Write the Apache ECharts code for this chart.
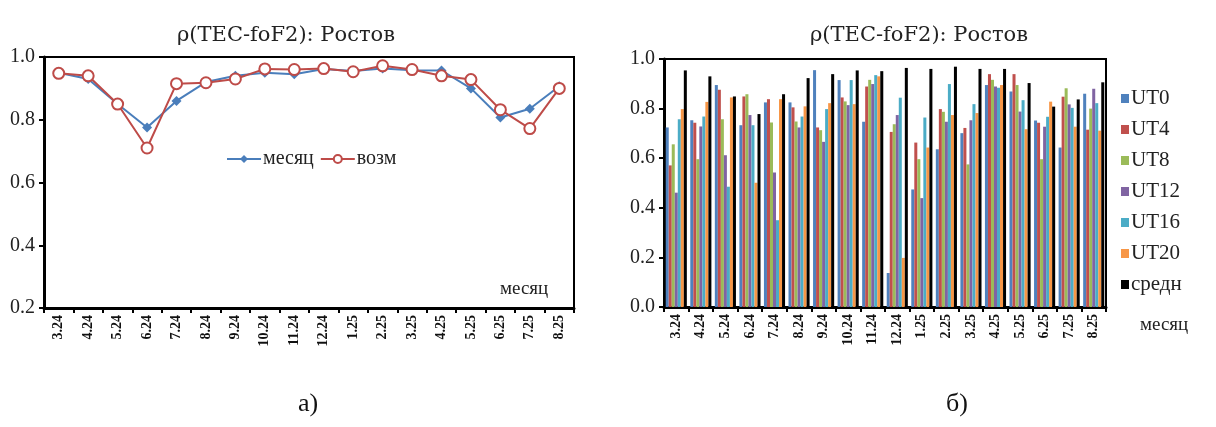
<!DOCTYPE html>
<html><head><meta charset="utf-8">
<script src="https://cdn.jsdelivr.net/npm/echarts@6/dist/echarts.min.js"></script>
<style>html,body{margin:0;padding:0;background:#fff}#c{width:1216px;height:427px}</style>
</head><body><div id="c"></div>
<script>
const categories = ['3.24','4.24','5.24','6.24','7.24','8.24','9.24','10.24','11.24','12.24','1.25','2.25','3.25','4.25','5.25','6.25','7.25','8.25'];
const monthVals = [0.95,0.93,0.85,0.775,0.86,0.92,0.94,0.95,0.945,0.962,0.955,0.963,0.958,0.957,0.90,0.807,0.835,0.907];
const possVals  = [0.948,0.94,0.85,0.71,0.915,0.918,0.93,0.962,0.96,0.963,0.953,0.972,0.96,0.94,0.928,0.832,0.772,0.90];
const ut0  = [0.724,0.753,0.895,0.733,0.825,0.825,0.955,0.915,0.747,0.137,0.474,0.636,0.701,0.895,0.869,0.752,0.643,0.86];
const ut4  = [0.571,0.743,0.876,0.849,0.838,0.805,0.724,0.845,0.889,0.706,0.663,0.798,0.722,0.939,0.939,0.743,0.848,0.715];
const ut8  = [0.656,0.596,0.757,0.858,0.744,0.748,0.713,0.829,0.916,0.737,0.596,0.787,0.575,0.916,0.895,0.596,0.882,0.80];
const ut12 = [0.461,0.728,0.612,0.774,0.542,0.724,0.666,0.814,0.899,0.774,0.439,0.747,0.753,0.889,0.788,0.727,0.817,0.88];
const ut16 = [0.757,0.768,0.485,0.733,0.35,0.768,0.798,0.915,0.935,0.844,0.764,0.899,0.818,0.884,0.834,0.767,0.803,0.822];
const ut20 = [0.798,0.827,0.845,0.501,0.838,0.809,0.822,0.818,0.93,0.198,0.643,0.774,0.782,0.895,0.717,0.828,0.727,0.711];
const avg  = [0.954,0.93,0.849,0.778,0.858,0.923,0.939,0.954,0.951,0.964,0.96,0.969,0.96,0.96,0.903,0.808,0.837,0.906];
const yTicksLeft = [0.2,1.0,0.2];
const yTicksRight = [0.0,1.0,0.2];

const serif = '"Liberation Serif","DejaVu Serif",serif';
const wideSerif = '"DejaVu Serif","Liberation Serif",serif';
const barSeriesDefs = [
  ['UT0', ut0, '#4F81BD'], ['UT4', ut4, '#C0504D'], ['UT8', ut8, '#9BBB59'],
  ['UT12', ut12, '#8064A2'], ['UT16', ut16, '#4BACC6'], ['UT20', ut20, '#F79646'],
  ['средн', avg, '#000000']
];

function xAxisCfg(gi){
  return {
    type:'category', gridIndex:gi, data:categories,
    axisLine:{lineStyle:{color:'#000',width:3}},
    axisTick:{show:true, alignWithLabel:false, length:5, lineStyle:{color:'#000',width:2}},
    axisLabel:{rotate:90, fontFamily:serif, fontWeight:'bold', fontSize:14, color:'#111', margin:7, interval:0}
  };
}
function yAxisCfg(gi, t){
  return {
    type:'value', gridIndex:gi, min:t[0], max:t[1], interval:t[2],
    axisLine:{show:true, lineStyle:{color:'#000',width:3}},
    axisTick:{show:true, length:5, lineStyle:{color:'#000',width:2}},
    splitLine:{show:false},
    axisLabel:{fontFamily:serif, fontSize:20, color:'#222', margin:9, formatter:v=>v.toFixed(1)}
  };
}

const series = [
  {name:'месяц', type:'line', xAxisIndex:0, yAxisIndex:0, data:monthVals,
   symbol:'diamond', symbolSize:10, lineStyle:{color:'#4A7EBB', width:2},
   itemStyle:{color:'#4A7EBB'}},
  {name:'возм', type:'line', xAxisIndex:0, yAxisIndex:0, data:possVals,
   symbol:'emptyCircle', symbolSize:11, lineStyle:{color:'#BE4B48', width:2},
   itemStyle:{color:'#BE4B48', borderWidth:1.5}}
];
barSeriesDefs.forEach(d=>{
  series.push({name:d[0], type:'bar', xAxisIndex:1, yAxisIndex:1, data:d[1],
    barGap:'0%', barCategoryGap:'14%', itemStyle:{color:d[2]}});
});

const chart = echarts.init(document.getElementById('c'), null, {renderer:'canvas'});
chart.setOption({
  animation:false,
  backgroundColor:'#fff',
  title:[
    {text:'ρ(TEC-foF2): Ростов', left:281, top:20, textAlign:'center',
     textStyle:{fontFamily:wideSerif, fontSize:21, fontWeight:'normal', color:'#222'}},
    {text:'ρ(TEC-foF2): Ростов', left:914, top:20, textAlign:'center',
     textStyle:{fontFamily:wideSerif, fontSize:21, fontWeight:'normal', color:'#222'}}
  ],
  grid:[
    {left:44, right:642, top:57, bottom:119, show:true, borderColor:'#000', borderWidth:2},
    {left:664, right:110, top:59, bottom:120, show:true, borderColor:'#000', borderWidth:2}
  ],
  xAxis:[xAxisCfg(0), xAxisCfg(1)],
  yAxis:[yAxisCfg(0, yTicksLeft), yAxisCfg(1, yTicksRight)],
  legend:[
    {data:['месяц','возм'], left:221, top:144, orient:'horizontal', itemWidth:34, itemHeight:10, itemGap:6,
     textStyle:{fontFamily:serif, fontSize:20, color:'#222', padding:[0,0,0,-3]}},
    {data:['UT0','UT4','UT8','UT12','UT16','UT20','средн'], left:1116, top:83, orient:'vertical',
     itemWidth:8, itemHeight:9, itemGap:10, icon:'rect',
     textStyle:{fontFamily:serif, fontSize:21, color:'#222', lineHeight:21, padding:[0,0,0,-3]}}
  ],
  graphic:[
    {type:'text', left:500, top:280, style:{text:'месяц', font:'19px '+serif, fill:'#222'}},
    {type:'text', left:1140, top:316, style:{text:'месяц', font:'19px '+serif, fill:'#222'}},
    {type:'text', left:298, top:391, style:{text:'а)', font:'26px '+serif, fill:'#111'}},
    {type:'text', left:946, top:391, style:{text:'б)', font:'26px '+serif, fill:'#111'}}
  ],
  series:series
});
</script>
</body></html>
